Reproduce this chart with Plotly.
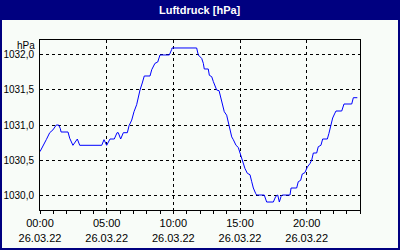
import plotly.graph_objects as go

# ---- data (hours since 26.03.22 00:00, pressure in hPa) ----
hours = [0.0, 0.22, 0.47, 0.73, 0.97, 1.22, 1.40, 1.52, 1.58, 2.10, 2.23, 2.47, 2.65, 2.80, 2.98,
         4.63, 4.80, 5.00, 5.25, 5.57, 5.78, 5.87, 6.05, 6.25, 6.55, 6.68, 6.88, 7.05, 7.25, 7.37,
         7.50, 7.67, 7.82, 8.25, 8.38, 8.62, 8.83, 9.00, 9.70, 9.88, 9.90, 11.75, 11.87, 12.13,
         12.25, 12.32, 12.62, 12.70, 12.88, 13.00, 13.12, 13.25, 13.43, 13.55, 13.67, 13.82,
         14.00, 14.12, 14.25, 14.38, 14.50, 14.70, 14.87, 14.95, 15.13, 15.25, 15.37, 15.55,
         15.75, 15.88, 16.00, 16.18, 16.25, 16.82, 17.00, 17.50, 17.68, 17.83, 17.95, 18.08,
         18.17, 18.75, 18.83, 19.25, 19.37, 19.55, 19.67, 19.87, 20.05, 20.25, 20.38, 20.50,
         20.75, 20.87, 21.07, 21.20, 21.55, 21.67, 21.80, 21.95, 22.12, 22.20, 22.63, 22.80,
         23.38, 23.50, 23.80]
pressure = [1030.62, 1030.71, 1030.79, 1030.89, 1030.93, 1031.00, 1031.00, 1030.95, 1030.90,
            1030.90, 1030.81, 1030.71, 1030.76, 1030.80, 1030.71,
            1030.71, 1030.79, 1030.71, 1030.80, 1030.80, 1030.89, 1030.89, 1030.80, 1030.89,
            1030.89, 1030.99, 1031.07, 1031.19, 1031.29, 1031.40,
            1031.50, 1031.60, 1031.70, 1031.70, 1031.79, 1031.88, 1031.90, 1032.00, 1032.00,
            1032.08, 1032.10, 1032.10, 1032.00, 1031.95,
            1031.88, 1031.80, 1031.80, 1031.71, 1031.69, 1031.62, 1031.55, 1031.50, 1031.49,
            1031.40, 1031.29, 1031.19,
            1031.14, 1031.05, 1030.93, 1030.83, 1030.79, 1030.71, 1030.68, 1030.63, 1030.52,
            1030.45, 1030.38, 1030.31,
            1030.29, 1030.19, 1030.10, 1030.02, 1030.00, 1030.00, 1029.90, 1029.90, 1029.98,
            1030.00, 1029.90, 1029.98,
            1030.00, 1030.00, 1030.10, 1030.10, 1030.19, 1030.21, 1030.30, 1030.32, 1030.40,
            1030.45, 1030.50, 1030.60,
            1030.60, 1030.69, 1030.71, 1030.80, 1030.80, 1030.88, 1031.00, 1031.10, 1031.17,
            1031.20, 1031.20, 1031.30,
            1031.30, 1031.39, 1031.39]

title_text = "Luftdruck [hPa]"
unit_label = "hPa"
x_tick_vals = [0, 5, 10, 15, 20]
x_tick_text = ["00:00<br>26.03.22", "05:00<br>26.03.22", "10:00<br>26.03.22",
               "15:00<br>26.03.22", "20:00<br>26.03.22"]
y_tick_vals = [1030.0, 1030.5, 1031.0, 1031.5, 1032.0]
y_tick_text = ["1030,0", "1030,5", "1031,0", "1031,5", "1032,0"]

NAVY = "#000080"
BG = "#F8FCF8"
FONT = "Liberation Sans"

fig = go.Figure()
fig.add_trace(go.Scatter(x=hours, y=pressure, mode="lines",
                         line=dict(color="#0000FF", width=1), hoverinfo="skip"))

W, H = 400, 250
L, R, T, B = 40, 40, 40, 40
pw, ph = W - L - R, H - T - B


def px_x(x):
    return (x - L) / pw


def px_y(y):
    return 1 - (y - T) / ph


fig.update_layout(
    width=W, height=H,
    margin=dict(l=L, r=R, t=T, b=B, pad=0, autoexpand=False),
    paper_bgcolor=BG, plot_bgcolor=BG,
    showlegend=False,
    font=dict(family=FONT, size=11, color="black"),
    shapes=[
        dict(type="rect", xref="paper", yref="paper",
             x0=px_x(0), x1=px_x(W), y0=px_y(20), y1=px_y(0),
             fillcolor=NAVY, line=dict(width=0), layer="below"),
        dict(type="rect", xref="paper", yref="paper",
             x0=px_x(1), x1=px_x(W - 1), y0=px_y(H - 1), y1=px_y(1),
             fillcolor="rgba(0,0,0,0)", line=dict(color=NAVY, width=2)),
    ],
    annotations=[
        dict(text="<b>" + title_text + "</b>", xref="paper", yref="paper",
             x=px_x(200), y=px_y(10), xanchor="center", yanchor="middle",
             showarrow=False, font=dict(family=FONT, size=11, color="white")),
        dict(text=unit_label, xref="paper", yref="paper",
             x=px_x(37), y=px_y(45), xanchor="right", yanchor="middle",
             showarrow=False, font=dict(family=FONT, size=10, color="black")),
    ],
)

fig.update_xaxes(
    range=[0, 24], tickmode="array", tickvals=x_tick_vals, ticktext=x_tick_text,
    automargin=False,
    showline=True, linecolor="black", linewidth=1, mirror=True,
    showgrid=True, gridcolor="black", gridwidth=1, griddash="3px,3px",
    ticks="outside", ticklen=3, tickcolor="black", tickwidth=1,
    minor=dict(tickmode="linear", tick0=0, dtick=1, ticks="outside", ticklen=3,
               tickcolor="black", showgrid=False),
    zeroline=False, tickfont=dict(family=FONT, size=11, color="black"),
    fixedrange=True,
)
fig.update_yaxes(
    range=[1029.786, 1032.214], tickmode="array", tickvals=y_tick_vals, ticktext=y_tick_text,
    automargin=False,
    showline=True, linecolor="black", linewidth=1, mirror=True,
    showgrid=True, gridcolor="black", gridwidth=1, griddash="3px,3px",
    ticks="", ticklabelstandoff=3,
    zeroline=False, tickfont=dict(family=FONT, size=10, color="black"),
    fixedrange=True,
)

fig.write_html("out.html", config={"displayModeBar": False})
